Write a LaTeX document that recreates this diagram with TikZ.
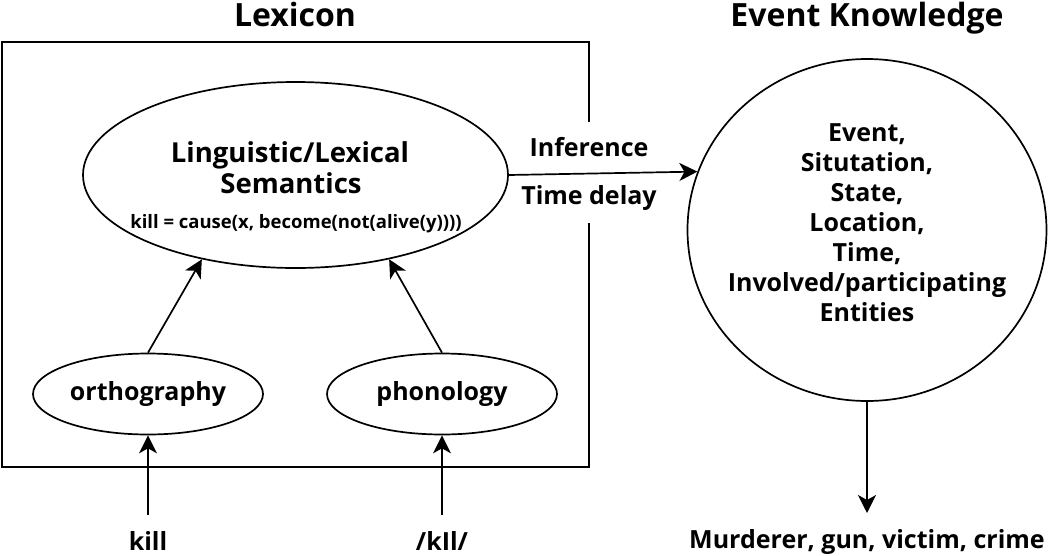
\documentclass[tikz,border=0pt]{standalone}
\usepackage{fontspec}
\setmainfont{Open Sans}
\usetikzlibrary{shapes.geometric,arrows.meta}
\begin{document}
\begin{tikzpicture}[x=1pt,y=-1pt,
  ell/.style={draw, ellipse, line width=1.7pt, inner sep=0pt},
  arr/.style={-{Stealth[length=18pt,width=18pt,inset=5pt]}, line width=1.7pt},
  headfont/.style={font=\fontsize{32}{38}\selectfont\bfseries},
  bigfont/.style={font=\fontsize{27.5}{32}\selectfont\bfseries},
  midfont/.style={font=\fontsize{25}{30}\selectfont\bfseries},
  smallfont/.style={font=\fontsize{18.5}{22}\selectfont\bfseries},
  lbl/.style={inner sep=0pt, anchor=base},
]
\useasboundingbox (0,0) rectangle (1050,555);

% headings
\node[lbl, headfont] (lexhead) at (295,26) {Lexicon};
\node[lbl, headfont] (evhead) at (867,26) {Event Knowledge};

% lexicon box (open on the right where the labels sit)
\draw[line width=1.8pt] (589,122) -- (589,42) -- (2,42) -- (2,467) -- (589,467) -- (589,223);

% semantics ellipse
\node[ell, minimum width=425pt, minimum height=186pt] (sem) at (295.5,175) {};
\node[lbl, bigfont] (semA) at (290,162) {Linguistic/Lexical};
\node[lbl, bigfont] (semB) at (291,193) {Semantics};
\node[lbl, smallfont] (semC) at (296,228) {kill = cause(x, become(not(alive(y))))};

% orthography / phonology
\node[ell, midfont, minimum width=230pt, minimum height=81pt] (ortho) at (148,394) {orthography};
\node[ell, midfont, minimum width=230pt, minimum height=81pt] (phon) at (442,394) {phonology};

% inputs
\node[lbl, midfont] (kill) at (148,550) {kill};
\node[lbl, midfont] (kil) at (442,550) {/kIl/};
\coordinate (killtop) at (148,515);
\coordinate (kiltop) at (442,515);

% event knowledge ellipse
\node[ell, minimum width=359pt, minimum height=342pt] (ev) at (867,230) {};
\node[midfont, align=center, inner sep=0pt, anchor=base] (evtext) at (867,321.7)
  {Event,\\Situtation,\\State,\\Location,\\Time,\\Involved/participating\\Entities};

% inference labels
\node[lbl, midfont] (inf) at (589,156) {Inference};
\node[lbl, midfont] (delay) at (589,204) {Time delay};

% output
\node[lbl, midfont] (out) at (867,548) {Murderer, gun, victim, crime};
\coordinate (outtop) at (867,513);

% connectors
\draw[arr] (killtop) -- (ortho.south);
\draw[arr] (kiltop) -- (phon.south);
\draw[arr] (ortho.north) -- (sem.222);
\draw[arr] (phon.north) -- (sem.318);
\draw[arr] (sem.east) -- (ev.161.7);
\draw[arr] (ev.south) -- (outtop);
\end{tikzpicture}
\end{document}
